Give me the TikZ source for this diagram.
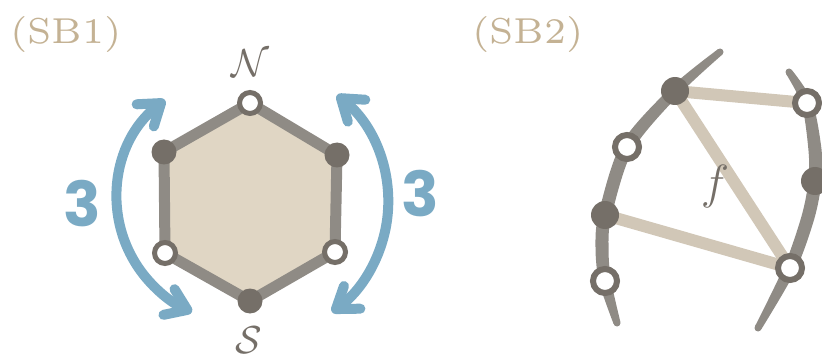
\RequirePackage{fix-cm}
\documentclass[tikz,border=0pt]{standalone}
\usepackage{fontspec}
\newfontfamily\threefont{Poppins}
\newfontfamily\sbfont{lmroman6-regular.otf}
\usetikzlibrary{arrows.meta,calc}
\definecolor{hexfill}{HTML}{E0D6C4}
\definecolor{hexedge}{HTML}{8F8B85}
\definecolor{dotdark}{HTML}{756F68}
\definecolor{bluearc}{HTML}{7AAAC4}
\definecolor{sblabel}{HTML}{C4B294}
\definecolor{lightedge}{HTML}{D1C7B7}
\tikzset{
  hexfilled/.style={circle,fill=dotdark,inner sep=0pt,minimum size=25pt},
  hexopen/.style={circle,draw=dotdark,line width=5pt,fill=white,inner sep=0pt,minimum size=21pt},
  bigfilled/.style={circle,fill=dotdark,inner sep=0pt,minimum size=28pt},
  bigopen/.style={circle,draw=dotdark,line width=6pt,fill=white,inner sep=0pt,minimum size=24pt},
  hexline/.style={draw=hexedge,fill=hexfill,line width=11pt,line join=round},
  bluearrow/.style={draw=bluearc,line width=10pt,line cap=round,
    {Straight Barb[round,length=20pt,width=28pt]}-{Straight Barb[round,length=20pt,width=28pt]}},
  threelabel/.style={text=bluearc,font=\threefont\bfseries\fontsize{62}{62}\selectfont,inner sep=0pt},
  sbtitle/.style={text=sblabel,font=\sbfont\fontsize{36}{36}\selectfont,inner sep=0pt,anchor=base west},
  graylabel/.style={text=dotdark,inner sep=0pt},
  lightline/.style={draw=lightedge,line width=12pt,line cap=round},
  grayband/.style={fill=hexedge}
}
\begin{document}
\begin{tikzpicture}[x=1pt,y=1pt]
\useasboundingbox (0,0) rectangle (822,354);
% ---------- SB1 ----------
\node[sbtitle] (t1) at (10,310) {(SB1)};
\coordinate (cN) at (250,251);
\coordinate (cUR) at (337,199);
\coordinate (cLR) at (335,102);
\coordinate (cS) at (250,53);
\coordinate (cLL) at (165,101);
\coordinate (cUL) at (164,202);
\path[hexline] (cN) -- (cUR) -- (cLR) -- (cS) -- (cLL) -- (cUL) -- cycle;
\node[hexopen] (N) at (cN) {};
\node[hexfilled] (UR) at (cUR) {};
\node[hexopen] (LR) at (cLR) {};
\node[hexfilled] (S) at (cS) {};
\node[hexopen] (LL) at (cLL) {};
\node[hexfilled] (UL) at (cUL) {};
\node[graylabel,font=\fontsize{39}{39}\selectfont] (Nlab) at (250,290.5) {$\mathcal{N}$};
\node[graylabel,font=\fontsize{39}{39}\selectfont] (Slab) at (249,14) {$\mathcal{S}$};
% blue arrows
\draw[bluearrow] ($(241,156)+(127.8:124)$) arc[start angle=127.8,end angle=246.7,radius=124];
\draw[bluearrow] ($(252,152.4)+(51.4:136.3)$) arc[start angle=51.4,end angle=-54.1,radius=136.3];
\node[threelabel] (k1) at (82,150.5) {3};
\node[threelabel] (k2) at (420,160) {3};
% ---------- SB2 ----------
\node[sbtitle] (t2) at (472,310) {(SB2)};
\coordinate (pa) at (675,263);
\coordinate (pb) at (627,207);
\coordinate (pc) at (605,139);
\coordinate (pd) at (605,73);
\coordinate (pe) at (807,251);
\coordinate (pg) at (815,173);
\coordinate (ph) at (790,86);
\draw[lightline] (pa) -- (pe);
\draw[lightline] (pa) -- (ph);
\draw[lightline] (pc) -- (ph);
% left tapered band
\fill[grayband] plot[smooth] coordinates {(717.7,304.6) (671.1,266.8) (621.3,210.2) (598.7,140.6) (595.5,106) (599.1,71.8) (613.6,30.0)}
  -- plot[smooth] coordinates {(620.4,32.0) (610.9,74.2) (608.5,106) (611.3,137.4) (632.7,203.8) (678.9,259.2) (722.3,299.4)} -- cycle;
\fill[grayband] (720,302) circle[radius=3.5];
\fill[grayband] (617,31) circle[radius=3.5];
% right tapered band
\fill[grayband] plot[smooth] coordinates {(792.0,283.8) (812.2,252.7) (821.5,204.7) (821.5,172.3) (814.3,135.2) (795.5,83.5) (761.1,24.4)}
  -- plot[smooth] coordinates {(754.9,27.6) (784.5,88.5) (801.8,138.8) (808.5,173.7) (808.5,203.3) (801.8,249.3) (786.0,280.2)} -- cycle;
\fill[grayband] (789,282) circle[radius=3.5];
\fill[grayband] (758,26) circle[radius=3.5];
\node[bigfilled] (a) at (pa) {};
\node[bigopen] (b) at (pb) {};
\node[bigfilled] (c) at (pc) {};
\node[bigopen] (d) at (pd) {};
\node[bigopen] (e) at (pe) {};
\node[bigfilled] (g) at (pg) {};
\node[bigopen] (h) at (ph) {};
\node[graylabel,font=\fontsize{48}{48}\selectfont] (flab) at (715,168) {$f$};
\end{tikzpicture}
\end{document}
